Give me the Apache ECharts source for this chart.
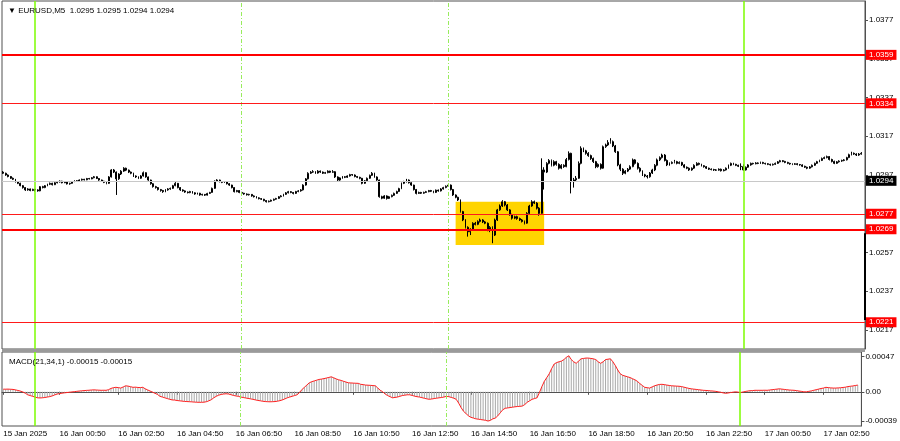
<!DOCTYPE html>
<html><head><meta charset="utf-8">
<script src="https://cdn.jsdelivr.net/npm/echarts@6/dist/echarts.min.js"></script>
<style>html,body{margin:0;padding:0;background:#fff}#c{width:900px;height:441px}</style>
</head><body><div id="c"></div>
<script>
// ---------------- DATA ----------------
const symbolTitle = 'EURUSD,M5';
const headerValues = ['1.0295', '1.0295', '1.0294', '1.0294'];
const macdTitle = 'MACD(21,34,1) -0.00015 -0.00015';
const firstBarTime = Date.UTC(2025, 0, 15, 22, 55); // first visible M5 bar
const barMinutes = 5;

const opens = [
1.02985,1.02979,1.02970,1.02962,1.02953,1.02948,1.02935,1.02927,1.02915,1.02905,
1.02893,1.02898,1.02890,1.02896,1.02893,1.02888,1.02910,1.02905,1.02915,1.02922,
1.02927,1.02920,1.02930,1.02934,1.02938,1.02930,1.02935,1.02924,1.02927,1.02936,
1.02940,1.02938,1.02944,1.02948,1.02945,1.02952,1.02950,1.02956,1.02961,1.02952,
1.02944,1.02938,1.02932,1.02927,1.02960,1.02996,1.02985,1.02950,1.02975,1.02990,
1.03005,1.02995,1.02985,1.02979,1.02965,1.02960,1.02953,1.02965,1.02982,1.02960,
1.02944,1.02925,1.02910,1.02905,1.02895,1.02890,1.02884,1.02893,1.02898,1.02901,
1.02915,1.02927,1.02905,1.02893,1.02888,1.02882,1.02879,1.02885,1.02878,1.02872,
1.02876,1.02867,1.02870,1.02866,1.02875,1.02880,1.02901,1.02938,1.02944,1.02936,
1.02932,1.02935,1.02925,1.02918,1.02905,1.02884,1.02890,1.02880,1.02876,1.02872,
1.02868,1.02870,1.02862,1.02858,1.02852,1.02848,1.02845,1.02838,1.02832,1.02835,
1.02840,1.02845,1.02849,1.02858,1.02862,1.02870,1.02878,1.02884,1.02880,1.02875,
1.02885,1.02888,1.02893,1.02918,1.02950,1.02979,1.02985,1.02987,1.02980,1.02990,
1.02985,1.02979,1.02982,1.02990,1.02984,1.02987,1.02960,1.02944,1.02955,1.02961,
1.02958,1.02965,1.02972,1.02970,1.02962,1.02958,1.02953,1.02927,1.02940,1.02953,
1.02968,1.02979,1.02960,1.02944,1.02858,1.02850,1.02862,1.02849,1.02858,1.02865,
1.02875,1.02885,1.02900,1.02927,1.02935,1.02944,1.02930,1.02918,1.02895,1.02875,
1.02880,1.02876,1.02880,1.02884,1.02890,1.02886,1.02880,1.02892,1.02888,1.02898,
1.02905,1.02912,1.02918,1.02895,1.02867,1.02855,1.02841,1.02781,1.02738,1.02700,
1.02677,1.02690,1.02721,1.02715,1.02730,1.02738,1.02728,1.02721,1.02686,1.02700,
1.02660,1.02738,1.02790,1.02810,1.02832,1.02815,1.02790,1.02765,1.02747,1.02755,
1.02745,1.02738,1.02730,1.02721,1.02772,1.02810,1.02832,1.02825,1.02799,1.02772,
1.02996,1.02985,1.03030,1.03045,1.03020,1.03039,1.03025,1.03005,1.03020,1.03013,
1.03050,1.03082,1.02936,1.02945,1.02953,1.03030,1.03108,1.03095,1.03082,1.03070,
1.03055,1.03039,1.03013,1.03025,1.03005,1.03116,1.03125,1.03138,1.03142,1.03120,
1.03090,1.03022,1.03000,1.02979,1.02990,1.03000,1.03013,1.03048,1.03030,1.03005,
1.02990,1.02971,1.02965,1.02961,1.02980,1.02996,1.03020,1.03048,1.03060,1.03073,
1.03045,1.03022,1.03030,1.03035,1.03039,1.03030,1.03035,1.03022,1.03010,1.03005,
1.02996,1.03005,1.03020,1.03030,1.03025,1.03018,1.03013,1.03005,1.03000,1.02998,
1.02996,1.02995,1.03000,1.02992,1.02996,1.03005,1.03020,1.03030,1.03025,1.03020,
1.03015,1.03013,1.02996,1.03010,1.03022,1.03030,1.03028,1.03032,1.03030,1.03035,
1.03030,1.03028,1.03025,1.03022,1.03025,1.03030,1.03038,1.03044,1.03040,1.03035,
1.03030,1.03027,1.03025,1.03028,1.03024,1.03022,1.03015,1.03010,1.03005,1.03012,
1.03020,1.03030,1.03039,1.03045,1.03055,1.03060,1.03065,1.03050,1.03040,1.03030,
1.03038,1.03042,1.03045,1.03048,1.03060,1.03075,1.03082,1.03078,1.03073,1.03078
];
const highs = [
1.02990,1.02982,1.02973,1.02965,1.02957,1.02950,1.02938,1.02930,1.02918,1.02907,
1.02902,1.02900,1.02899,1.02898,1.02896,1.02913,1.02914,1.02918,1.02925,1.02931,
1.02930,1.02933,1.02937,1.02942,1.02940,1.02938,1.02937,1.02930,1.02939,1.02943,
1.02943,1.02947,1.02951,1.02950,1.02955,1.02955,1.02959,1.02965,1.02963,1.02954,
1.02946,1.02940,1.02935,1.02964,1.03000,1.03001,1.02988,1.02979,1.02995,1.03010,
1.03008,1.02998,1.02988,1.02982,1.02968,1.02963,1.02969,1.02988,1.02984,1.02962,
1.02946,1.02928,1.02914,1.02908,1.02898,1.02893,1.02897,1.02902,1.02905,1.02919,
1.02933,1.02929,1.02908,1.02896,1.02891,1.02885,1.02888,1.02887,1.02881,1.02879,
1.02878,1.02873,1.02872,1.02878,1.02883,1.02905,1.02942,1.02948,1.02946,1.02939,
1.02938,1.02937,1.02928,1.02920,1.02907,1.02893,1.02892,1.02883,1.02878,1.02875,
1.02873,1.02872,1.02865,1.02861,1.02855,1.02851,1.02847,1.02840,1.02838,1.02843,
1.02848,1.02852,1.02861,1.02866,1.02873,1.02882,1.02888,1.02887,1.02882,1.02888,
1.02892,1.02897,1.02922,1.02954,1.02984,1.02990,1.02995,1.02990,1.02995,1.02993,
1.02988,1.02986,1.02994,1.02992,1.02995,1.02990,1.02963,1.02958,1.02965,1.02964,
1.02968,1.02976,1.02975,1.02973,1.02965,1.02961,1.02955,1.02944,1.02957,1.02972,
1.02985,1.02982,1.02963,1.02946,1.02863,1.02866,1.02865,1.02862,1.02869,1.02879,
1.02889,1.02904,1.02931,1.02940,1.02950,1.02947,1.02933,1.02920,1.02898,1.02884,
1.02883,1.02884,1.02888,1.02893,1.02893,1.02889,1.02895,1.02895,1.02902,1.02909,
1.02916,1.02924,1.02921,1.02898,1.02870,1.02858,1.02844,1.02785,1.02742,1.02705,
1.02695,1.02726,1.02728,1.02736,1.02745,1.02742,1.02733,1.02725,1.02706,1.02705,
1.02745,1.02795,1.02818,1.02840,1.02836,1.02820,1.02794,1.02770,1.02760,1.02760,
1.02750,1.02743,1.02735,1.02778,1.02816,1.02840,1.02838,1.02830,1.02804,1.03056,
1.03010,1.03036,1.03052,1.03050,1.03046,1.03043,1.03030,1.03026,1.03025,1.03058,
1.03092,1.03085,1.02955,1.02965,1.03040,1.03118,1.03112,1.03100,1.03088,1.03075,
1.03060,1.03043,1.03030,1.03030,1.03122,1.03132,1.03150,1.03160,1.03148,1.03125,
1.03094,1.03028,1.03005,1.02995,1.03006,1.03020,1.03055,1.03052,1.03035,1.03010,
1.02994,1.02976,1.02970,1.02985,1.03002,1.03026,1.03055,1.03066,1.03080,1.03078,
1.03050,1.03035,1.03040,1.03048,1.03043,1.03040,1.03038,1.03026,1.03014,1.03009,
1.03009,1.03025,1.03036,1.03034,1.03028,1.03021,1.03016,1.03008,1.03004,1.03002,
1.03000,1.03004,1.03003,1.03000,1.03009,1.03024,1.03034,1.03033,1.03028,1.03023,
1.03030,1.03025,1.03014,1.03026,1.03034,1.03033,1.03036,1.03035,1.03039,1.03038,
1.03033,1.03031,1.03028,1.03029,1.03034,1.03042,1.03048,1.03047,1.03043,1.03038,
1.03033,1.03030,1.03032,1.03031,1.03027,1.03025,1.03018,1.03013,1.03016,1.03024,
1.03034,1.03043,1.03049,1.03060,1.03065,1.03070,1.03068,1.03054,1.03044,1.03042,
1.03046,1.03049,1.03052,1.03064,1.03080,1.03090,1.03086,1.03082,1.03083,1.03088
];
const lows = [
1.02975,1.02966,1.02958,1.02950,1.02944,1.02931,1.02923,1.02912,1.02900,1.02888,
1.02889,1.02886,1.02887,1.02885,1.02884,1.02886,1.02901,1.02902,1.02912,1.02918,
1.02916,1.02918,1.02927,1.02931,1.02927,1.02928,1.02921,1.02920,1.02925,1.02933,
1.02935,1.02935,1.02941,1.02942,1.02943,1.02947,1.02948,1.02953,1.02949,1.02940,
1.02934,1.02928,1.02922,1.02924,1.02957,1.02980,1.02867,1.02945,1.02970,1.02986,
1.02990,1.02980,1.02974,1.02960,1.02955,1.02949,1.02950,1.02962,1.02956,1.02940,
1.02920,1.02905,1.02900,1.02890,1.02884,1.02878,1.02881,1.02889,1.02894,1.02898,
1.02912,1.02901,1.02888,1.02884,1.02878,1.02875,1.02876,1.02874,1.02868,1.02869,
1.02863,1.02864,1.02862,1.02864,1.02872,1.02878,1.02898,1.02934,1.02932,1.02928,
1.02929,1.02921,1.02914,1.02901,1.02880,1.02881,1.02876,1.02872,1.02868,1.02864,
1.02864,1.02858,1.02854,1.02849,1.02844,1.02841,1.02834,1.02828,1.02829,1.02832,
1.02837,1.02842,1.02846,1.02855,1.02859,1.02867,1.02875,1.02876,1.02870,1.02872,
1.02881,1.02884,1.02890,1.02915,1.02947,1.02975,1.02981,1.02976,1.02977,1.02981,
1.02975,1.02976,1.02979,1.02980,1.02981,1.02955,1.02938,1.02940,1.02951,1.02954,
1.02955,1.02962,1.02966,1.02958,1.02954,1.02948,1.02922,1.02924,1.02937,1.02950,
1.02965,1.02956,1.02940,1.02853,1.02845,1.02847,1.02843,1.02846,1.02855,1.02862,
1.02872,1.02882,1.02897,1.02923,1.02931,1.02926,1.02914,1.02890,1.02870,1.02872,
1.02872,1.02873,1.02877,1.02881,1.02882,1.02876,1.02877,1.02884,1.02885,1.02895,
1.02902,1.02909,1.02890,1.02862,1.02850,1.02836,1.02776,1.02732,1.02694,1.02652,
1.02660,1.02686,1.02710,1.02711,1.02725,1.02722,1.02716,1.02680,1.02675,1.02618,
1.02655,1.02733,1.02785,1.02805,1.02808,1.02784,1.02760,1.02740,1.02742,1.02739,
1.02733,1.02725,1.02715,1.02718,1.02768,1.02806,1.02820,1.02792,1.02760,1.02770,
1.02895,1.02980,1.03025,1.03014,1.03015,1.03018,1.02998,1.03000,1.03007,1.03010,
1.03045,1.02875,1.02905,1.02938,1.02950,1.03025,1.03088,1.03075,1.03064,1.03048,
1.03032,1.03005,1.03008,1.02998,1.03002,1.03110,1.03120,1.03132,1.03114,1.03084,
1.03015,1.02990,1.02970,1.02974,1.02985,1.02996,1.03010,1.03024,1.02998,1.02983,
1.02965,1.02958,1.02952,1.02956,1.02975,1.02990,1.03015,1.03042,1.03055,1.03040,
1.03016,1.03018,1.03026,1.03030,1.03025,1.03026,1.03017,1.03005,1.03000,1.02991,
1.02992,1.03001,1.03016,1.03020,1.03014,1.03008,1.03001,1.02996,1.02994,1.02991,
1.02991,1.02992,1.02988,1.02989,1.02993,1.03002,1.03016,1.03021,1.03016,1.03011,
1.02995,1.02992,1.02993,1.03007,1.03018,1.03024,1.03025,1.03026,1.03027,1.03026,
1.03024,1.03021,1.03018,1.03019,1.03022,1.03027,1.03035,1.03036,1.03031,1.03026,
1.03023,1.03021,1.03022,1.03020,1.03018,1.03011,1.03006,1.03000,1.03002,1.03009,
1.03017,1.03027,1.03036,1.03042,1.03052,1.03056,1.03045,1.03035,1.03026,1.03027,
1.03034,1.03038,1.03041,1.03045,1.03057,1.03071,1.03074,1.03068,1.03069,1.03075
];
const closes = [
1.02979,1.02970,1.02962,1.02953,1.02948,1.02935,1.02927,1.02915,1.02905,1.02893,
1.02898,1.02890,1.02896,1.02893,1.02888,1.02910,1.02905,1.02915,1.02922,1.02927,
1.02920,1.02930,1.02934,1.02938,1.02930,1.02935,1.02924,1.02927,1.02936,1.02940,
1.02938,1.02944,1.02948,1.02945,1.02952,1.02950,1.02956,1.02961,1.02952,1.02944,
1.02938,1.02932,1.02927,1.02960,1.02996,1.02985,1.02950,1.02975,1.02990,1.03005,
1.02995,1.02985,1.02979,1.02965,1.02960,1.02953,1.02965,1.02982,1.02960,1.02944,
1.02925,1.02910,1.02905,1.02895,1.02890,1.02884,1.02893,1.02898,1.02901,1.02915,
1.02927,1.02905,1.02893,1.02888,1.02882,1.02879,1.02885,1.02878,1.02872,1.02876,
1.02867,1.02870,1.02866,1.02875,1.02880,1.02901,1.02938,1.02944,1.02936,1.02932,
1.02935,1.02925,1.02918,1.02905,1.02884,1.02890,1.02880,1.02876,1.02872,1.02868,
1.02870,1.02862,1.02858,1.02852,1.02848,1.02845,1.02838,1.02832,1.02835,1.02840,
1.02845,1.02849,1.02858,1.02862,1.02870,1.02878,1.02884,1.02880,1.02875,1.02885,
1.02888,1.02893,1.02918,1.02950,1.02979,1.02985,1.02987,1.02980,1.02990,1.02985,
1.02979,1.02982,1.02990,1.02984,1.02987,1.02960,1.02944,1.02955,1.02961,1.02958,
1.02965,1.02972,1.02970,1.02962,1.02958,1.02953,1.02927,1.02940,1.02953,1.02968,
1.02979,1.02960,1.02944,1.02858,1.02850,1.02862,1.02849,1.02858,1.02865,1.02875,
1.02885,1.02900,1.02927,1.02935,1.02944,1.02930,1.02918,1.02895,1.02875,1.02880,
1.02876,1.02880,1.02884,1.02890,1.02886,1.02880,1.02892,1.02888,1.02898,1.02905,
1.02912,1.02918,1.02895,1.02867,1.02855,1.02841,1.02781,1.02738,1.02700,1.02677,
1.02690,1.02721,1.02715,1.02730,1.02738,1.02728,1.02721,1.02686,1.02700,1.02660,
1.02738,1.02790,1.02810,1.02832,1.02815,1.02790,1.02765,1.02747,1.02755,1.02745,
1.02738,1.02730,1.02721,1.02772,1.02810,1.02832,1.02825,1.02799,1.02772,1.02996,
1.02985,1.03030,1.03045,1.03020,1.03039,1.03025,1.03005,1.03020,1.03013,1.03050,
1.03082,1.02936,1.02945,1.02953,1.03030,1.03108,1.03095,1.03082,1.03070,1.03055,
1.03039,1.03013,1.03025,1.03005,1.03116,1.03125,1.03138,1.03142,1.03120,1.03090,
1.03022,1.03000,1.02979,1.02990,1.03000,1.03013,1.03048,1.03030,1.03005,1.02990,
1.02971,1.02965,1.02961,1.02980,1.02996,1.03020,1.03048,1.03060,1.03073,1.03045,
1.03022,1.03030,1.03035,1.03039,1.03030,1.03035,1.03022,1.03010,1.03005,1.02996,
1.03005,1.03020,1.03030,1.03025,1.03018,1.03013,1.03005,1.03000,1.02998,1.02996,
1.02995,1.03000,1.02992,1.02996,1.03005,1.03020,1.03030,1.03025,1.03020,1.03015,
1.03013,1.02996,1.03010,1.03022,1.03030,1.03028,1.03032,1.03030,1.03035,1.03030,
1.03028,1.03025,1.03022,1.03025,1.03030,1.03038,1.03044,1.03040,1.03035,1.03030,
1.03027,1.03025,1.03028,1.03024,1.03022,1.03015,1.03010,1.03005,1.03012,1.03020,
1.03030,1.03039,1.03045,1.03055,1.03060,1.03065,1.03050,1.03040,1.03030,1.03038,
1.03042,1.03045,1.03048,1.03060,1.03075,1.03082,1.03078,1.03073,1.03078,1.03082
];
const macd = [
3.5e-5,3.5e-5,3.6e-5,3.4e-5,3.2e-5,2.6e-5,1.8e-5,1.0e-5,-0.2e-5,-1.8e-5,
-4e-5,-5e-5,-6e-5,-7e-5,-8e-5,-8.2e-5,-8e-5,-7.6e-5,-7e-5,-6.4e-5,
-5.5e-5,-4.2e-5,-3e-5,-2.4e-5,-1.8e-5,-1.4e-5,-1e-5,-0.6e-5,-0.2e-5,0.2e-5,
0.6e-5,1e-5,1.3e-5,1.6e-5,1.9e-5,2.1e-5,2.4e-5,2.6e-5,2.4e-5,2.2e-5,
2e-5,2.1e-5,2e-5,2.8e-5,4.5e-5,5.5e-5,6e-5,5.6e-5,5e-5,6.5e-5,
8e-5,7.6e-5,6.8e-5,6e-5,6.2e-5,5.8e-5,5.6e-5,6e-5,4e-5,2.5e-5,
1e-5,-0.5e-5,-2e-5,-3.5e-5,-6e-5,-7e-5,-8e-5,-9e-5,-10e-5,-10.8e-5,
-11e-5,-11.6e-5,-12e-5,-12.4e-5,-12.8e-5,-13e-5,-13.2e-5,-13.4e-5,-13.7e-5,-13.9e-5,
-14e-5,-14e-5,-13.8e-5,-13.2e-5,-12e-5,-10.5e-5,-8e-5,-6e-5,-4.5e-5,-3.5e-5,
-3e-5,-2.6e-5,-3e-5,-3.8e-5,-4.8e-5,-5.5e-5,-6e-5,-7e-5,-7.6e-5,-8.2e-5,
-8.8e-5,-9.4e-5,-10e-5,-10.8e-5,-11.5e-5,-12e-5,-12.6e-5,-13e-5,-13.2e-5,-13.3e-5,
-13.2e-5,-13e-5,-12.5e-5,-11.8e-5,-10.8e-5,-9.5e-5,-8e-5,-7e-5,-6e-5,-5e-5,
-4e-5,-1e-5,3e-5,6e-5,9e-5,12e-5,13.5e-5,14.5e-5,15.5e-5,16.5e-5,
17e-5,17.6e-5,18.4e-5,19.2e-5,20e-5,18.6e-5,17.2e-5,16e-5,15.2e-5,14e-5,
13e-5,12e-5,11.8e-5,11.6e-5,11.4e-5,11.3e-5,10e-5,9.6e-5,9e-5,8.8e-5,
8.6e-5,8.3e-5,8e-5,5e-5,2e-5,0,-3e-5,-5e-5,-6.5e-5,-8e-5,
-7.5e-5,-7e-5,-6e-5,-5e-5,-4.5e-5,-4e-5,-4e-5,-4.8e-5,-5.8e-5,-6.5e-5,
-7e-5,-7.8e-5,-8.6e-5,-9.4e-5,-10e-5,-9.6e-5,-9e-5,-8.5e-5,-8e-5,-7.6e-5,
-7e-5,-6e-5,-6.5e-5,-7.5e-5,-8.5e-5,-10e-5,-15e-5,-21e-5,-26e-5,-29e-5,
-32e-5,-34e-5,-35e-5,-36e-5,-36.5e-5,-37e-5,-37.5e-5,-38e-5,-39e-5,-38e-5,
-36e-5,-35e-5,-32e-5,-28e-5,-24e-5,-22e-5,-21.5e-5,-21e-5,-20.5e-5,-20e-5,
-19.6e-5,-19.4e-5,-19e-5,-17e-5,-14e-5,-12e-5,-10e-5,-9e-5,-8e-5,-1e-5,
7e-5,14e-5,19e-5,24e-5,31e-5,37e-5,39e-5,40e-5,41e-5,43e-5,
46e-5,48e-5,43e-5,40e-5,38e-5,41e-5,44e-5,44.5e-5,45e-5,45e-5,
44.5e-5,44e-5,43e-5,40e-5,38e-5,40e-5,43e-5,43.5e-5,44e-5,40e-5,
35e-5,29e-5,24e-5,22e-5,21e-5,20e-5,19e-5,17.5e-5,16e-5,14e-5,
11e-5,8.5e-5,6e-5,5.5e-5,5e-5,6.5e-5,8e-5,9e-5,9.8e-5,10e-5,
9.6e-5,9e-5,8.5e-5,8e-5,7.8e-5,7.6e-5,7.4e-5,7e-5,6.2e-5,5.4e-5,
4.6e-5,4e-5,3.6e-5,3.2e-5,2.8e-5,2.4e-5,2e-5,1.8e-5,1.6e-5,1.2e-5,
1e-5,0.6e-5,0,-0.6e-5,-1.4e-5,-2e-5,-1.6e-5,-1e-5,-0.6e-5,0,
-0.4e-5,-1e-5,-0.4e-5,0.4e-5,1e-5,1.4e-5,1.6e-5,2e-5,2e-5,2e-5,
2e-5,2.1e-5,2e-5,2.4e-5,2.8e-5,3.2e-5,3.6e-5,4e-5,3.6e-5,3.2e-5,
2.8e-5,2.4e-5,2.2e-5,2e-5,1.6e-5,1e-5,0.6e-5,0,0,0.6e-5,
1.2e-5,2e-5,2.8e-5,3.6e-5,4.4e-5,5e-5,6e-5,5.6e-5,5.2e-5,5e-5,
5e-5,5.2e-5,5.4e-5,5.8e-5,6.2e-5,7e-5,7.4e-5,7.8e-5,8.4e-5,9e-5
];

const priceTicks = [1.0217, 1.0237, 1.0257, 1.0277, 1.0297, 1.0317, 1.0337, 1.0357, 1.0377];
const macdTicks = [-0.00039, 0, 0.00047];
const thickLevels = [1.0359, 1.0269];
const thinLevels = [1.0334, 1.0277, 1.0221];
const currentPrice = 1.0294;
const daySeparators = ['16 Jan 00:00', '17 Jan 00:00'];
const sessionLines = ['16 Jan 07:00', '16 Jan 14:00'];
const zoneTimes = ['16 Jan 14:15', '16 Jan 17:15'];
const zonePrices = [1.02609, 1.02832];
const scaleMarker = [1.02222, 1.02669];

// ---------------- BUILD ----------------
const MONTHS = ['Jan','Feb','Mar','Apr','May','Jun','Jul','Aug','Sep','Oct','Nov','Dec'];
const pad = n => (n < 10 ? '0' : '') + n;
function fmtTime(ms) {
  const d = new Date(ms);
  return d.getUTCDate() + ' ' + MONTHS[d.getUTCMonth()] + ' ' + pad(d.getUTCHours()) + ':' + pad(d.getUTCMinutes());
}
const cats = [];
for (let i = 0; i <= closes.length; i++) cats.push(fmtTime(firstBarTime + i * barMinutes * 60000));
const candles = closes.map((c, i) => [opens[i], c, lows[i], highs[i]]);

function showTimeLabel(idx) {
  if (idx === 0) return true;
  const s = cats[idx]; if (!s) return false;
  const hh = parseInt(s.slice(-5, -3), 10), mm = s.slice(-2);
  return mm === '50' && hh % 2 === 0;
}

const FONT = 'Liberation Sans, Arial, sans-serif';
const GREEN = '#7cfc00';
const vLines = daySeparators.map(t => ({ xAxis: t, lineStyle: { color: GREEN, width: 1.5, type: 'solid' } }))
  .concat(sessionLines.map(t => ({ xAxis: t, lineStyle: { color: '#98ec5c', width: 1, type: [4, 2, 1, 2] } })));

const levelLabel = (bg, txt) => ({
  show: true, position: 'end', distance: 1, formatter: txt,
  backgroundColor: bg, color: '#fff', fontSize: 8, fontFamily: FONT, padding: [1, 3, 1, 3]
});
const hLine = (v, color, width, bg) => ({
  yAxis: v, lineStyle: { color: color, width: width, type: 'solid' }, label: levelLabel(bg, v.toFixed(4))
});
const hLines = [hLine(currentPrice, '#c8c8c8', 1, '#000')]
  .concat(thinLevels.map(v => hLine(v, '#ff1a1a', 1, '#ff0000')))
  .concat(thickLevels.map(v => hLine(v, '#ff0000', 2, '#ff0000')));

const chart = echarts.init(document.getElementById('c'), null, { renderer: 'canvas' });
const option = {
  animation: false,
  backgroundColor: '#fff',
  textStyle: { fontFamily: FONT },
  title: [
    { text: '▼ ' + symbolTitle + '  ' + headerValues.join(' '), left: 3, top: 2,
      textStyle: { fontSize: 8, fontWeight: 'normal', color: '#000', fontFamily: FONT } },
    { text: macdTitle, left: 4, top: 353,
      textStyle: { fontSize: 8, fontWeight: 'normal', color: '#000', fontFamily: FONT } }
  ],
  grid: [
    { left: 2, top: 1, width: 863, height: 348, show: true, borderColor: '#505050', borderWidth: 1, backgroundColor: 'transparent' },
    { left: 2, top: 352, width: 863, height: 74, show: true, borderColor: '#505050', borderWidth: 1, backgroundColor: 'transparent' }
  ],
  xAxis: [
    { type: 'category', gridIndex: 0, data: cats, boundaryGap: true,
      axisLine: { show: false }, axisTick: { show: false }, axisLabel: { show: false }, splitLine: { show: false } },
    { type: 'category', gridIndex: 1, data: cats, boundaryGap: true,
      axisLine: { show: true, lineStyle: { color: '#505050', width: 1 } },
      axisTick: { show: true, alignWithLabel: true, length: 3, interval: (i) => showTimeLabel(i), lineStyle: { color: '#505050' } },
      axisLabel: { show: true, interval: (i) => showTimeLabel(i), align: 'left', margin: 4, fontSize: 8, color: '#000', fontFamily: FONT,
        formatter: (v, i) => (i === 0 ? '15 Jan 2025' : v) },
      splitLine: { show: false } }
  ],
  yAxis: [
    { type: 'value', gridIndex: 0, position: 'right', min: 1.02072, max: 1.03868, scale: true,
      axisLine: { show: true, lineStyle: { color: '#505050' } },
      axisTick: { show: true, length: 3, customValues: priceTicks, lineStyle: { color: '#505050' } },
      axisLabel: { show: true, customValues: priceTicks, formatter: v => v.toFixed(4), margin: 4, fontSize: 8, color: '#000', fontFamily: FONT },
      splitLine: { show: false } },
    { type: 'value', gridIndex: 1, position: 'right', min: -0.000456, max: 0.000531,
      axisLine: { show: true, lineStyle: { color: '#505050' } },
      axisTick: { show: true, length: 3, customValues: macdTicks, lineStyle: { color: '#505050' } },
      axisLabel: { show: true, customValues: macdTicks, formatter: v => (v === 0 ? '0.00' : v.toFixed(5)), margin: 4, fontSize: 8, color: '#000', fontFamily: FONT },
      splitLine: { show: false } }
  ],
  series: [
    { type: 'line', xAxisIndex: 0, yAxisIndex: 0, data: [], z: 1, silent: true,
      markArea: { silent: true, itemStyle: { color: '#ffd400', opacity: 1 },
        data: [[{ xAxis: zoneTimes[0], yAxis: zonePrices[1] }, { xAxis: zoneTimes[1], yAxis: zonePrices[0] }]] } },
    { type: 'candlestick', xAxisIndex: 0, yAxisIndex: 0, data: candles, z: 3, barWidth: 1.4,
      itemStyle: { color: '#ffffff', color0: '#000000', borderColor: '#000000', borderColor0: '#000000', borderWidth: 1 } },
    { type: 'line', xAxisIndex: 0, yAxisIndex: 0, data: [], z: 5, silent: true,
      markLine: { silent: true, precision: 6, symbol: ['none', 'none'], label: { show: false }, data: vLines.concat(hLines) } },
    { type: 'bar', xAxisIndex: 1, yAxisIndex: 1, data: macd, barWidth: 1, itemStyle: { color: '#a8a8a8' }, z: 2 },
    { type: 'line', xAxisIndex: 1, yAxisIndex: 1, data: macd, symbol: 'none', z: 4,
      lineStyle: { color: '#ff2020', width: 1 } },
    { type: 'line', xAxisIndex: 1, yAxisIndex: 1, data: [], z: 5, silent: true,
      markLine: { silent: true, precision: 6, symbol: ['none', 'none'], label: { show: false }, data: vLines } }
  ]
};
chart.setOption(option);

const y1 = chart.convertToPixel({ yAxisIndex: 0 }, scaleMarker[1]);
const y2 = chart.convertToPixel({ yAxisIndex: 0 }, scaleMarker[0]);
chart.setOption({
  graphic: [
    { type: 'rect', shape: { x: 2, y: 349, width: 863, height: 3 }, style: { fill: '#9a9a9a' }, silent: true, z: 10 },
    { type: 'rect', shape: { x: 864, y: y1, width: 2, height: y2 - y1 }, style: { fill: '#000' }, silent: true, z: 10 }
  ]
});
</script>
</body></html>
